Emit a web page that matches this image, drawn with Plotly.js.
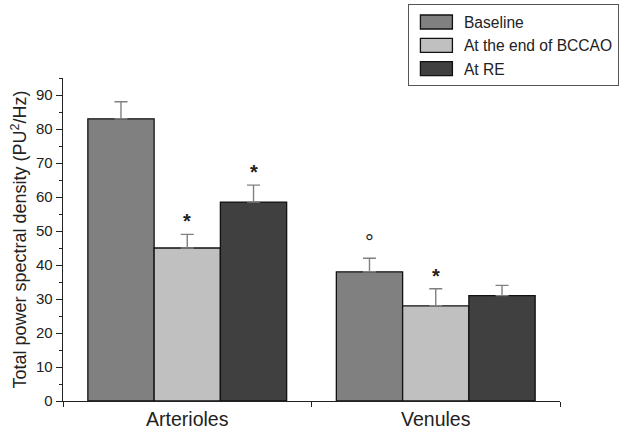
<!DOCTYPE html>
<html>
<head>
<meta charset="utf-8">
<script src="https://cdn.plot.ly/plotly-3.0.1.min.js"></script>
<style>html,body{margin:0;padding:0;background:#fff;}#chart{width:638px;height:429px;}</style>
</head>
<body>
<div id="chart"></div>
<script>
const categories = ["Arterioles", "Venules"];
const seriesNames = ["Baseline", "At the end of BCCAO", "At RE"];
const baseline = [83, 38];
const baselineErr = [5, 4];
const endBCCAO = [45, 28];
const endBCCAOErr = [4, 5];
const atRE = [58.5, 31];
const atREErr = [5, 3];
const colors = ["#808080", "#c0c0c0", "#404040"];
// significance marks: [series index, category index, symbol]
const marks = [[1, 0, "*"], [2, 0, "*"], [0, 1, "°"], [1, 1, "*"]];

const vals = [baseline, endBCCAO, atRE];
const errs = [baselineErr, endBCCAOErr, atREErr];

const traces = vals.map((v, i) => ({
  type: "bar",
  name: seriesNames[i],
  x: categories,
  y: v,
  marker: {color: colors[i], line: {color: "#111", width: 1.3}},
  error_y: {type: "data", array: errs[i], arrayminus: errs[i].map(() => 0), symmetric: false, color: "#808080", thickness: 1.4, width: 6.5},
  hoverinfo: "skip"
}));

const groupWidth = 0.8, n = 3, bw = groupWidth / n;
const annotations = marks.map(([s, c, sym]) => ({
  x: c + (s - 1) * bw,
  y: vals[s][c] + errs[s][c],
  xref: "x", yref: "y",
  text: sym === "*" ? "<b>*</b>" : sym,
  showarrow: false,
  yanchor: "bottom",
  yshift: sym === "*" ? 0 : 1,
  font: {family: "Liberation Sans, Arial, sans-serif", size: sym === "*" ? 20 : 22, color: "#222"}
}));

const layout = {
  width: 638, height: 429,
  margin: {l: 63, r: 78, t: 78, b: 28, autoexpand: false},
  paper_bgcolor: "#fff", plot_bgcolor: "#fff",
  barmode: "group", bargap: 0.2, bargroupgap: 0,
  font: {family: "Liberation Sans, Arial, sans-serif", color: "#222"},
  showlegend: true,
  legend: {x: 0.694, y: 1.228, xanchor: "left", yanchor: "top", bordercolor: "#555", borderwidth: 1,
           font: {size: 15.6, color: "#222"}, bgcolor: "#fff", itemwidth: 45, tracegroupgap: 0},
  xaxis: {type: "category", range: [-0.5, 1.5], showline: true, linecolor: "#222", linewidth: 1.3,
          ticks: "outside", tickson: "boundaries", ticklen: 5, tickcolor: "#222",
          tickfont: {size: 19.5, color: "#222"}, showgrid: false, zeroline: false},
  yaxis: {range: [0, 95], dtick: 10, tick0: 0, showline: true, linecolor: "#222", linewidth: 1.3,
          ticks: "outside", ticklen: 6, tickcolor: "#222", tickfont: {size: 15, color: "#222"},
          minor: {dtick: 5, ticks: "outside", ticklen: 3, tickcolor: "#222", showgrid: false},
          showgrid: false, zeroline: false,
          title: {text: "Total power spectral density (PU<sup>2</sup>/Hz)", font: {size: 18, color: "#222"}, standoff: 4}},
  annotations: annotations
};

Plotly.newPlot("chart", traces, layout, {displayModeBar: false, staticPlot: true}).then(gd => {
  // widen legend swatches to match the reference's rectangular keys
  gd.querySelectorAll(".legend .legendpoints path").forEach(p => {
    p.setAttribute("d", "M16,7H-16V-7H16Z");
  });
});
</script>
</body>
</html>
